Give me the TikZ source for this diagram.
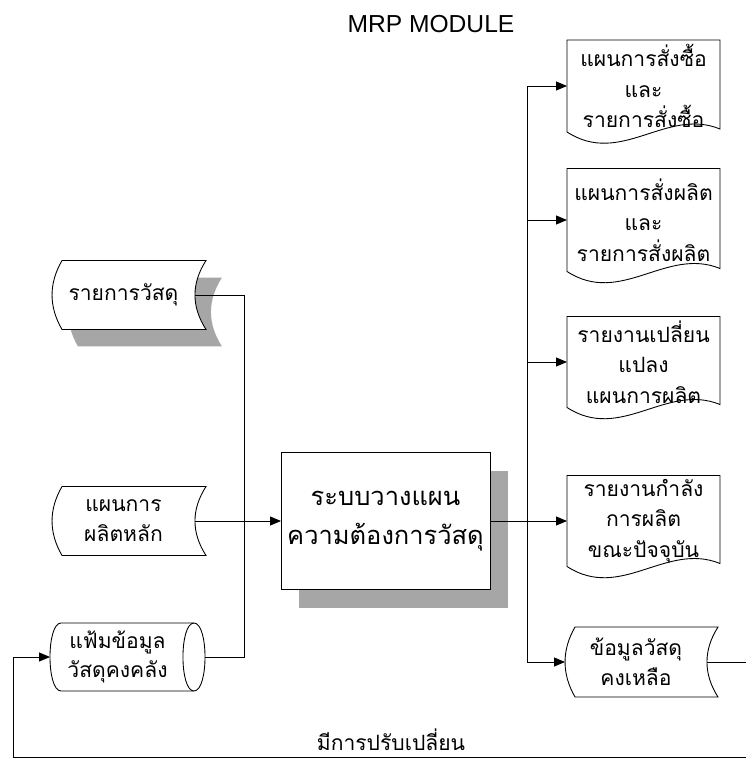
\documentclass[tikz,border=0pt]{standalone}
\usepackage{fontspec}
\usepackage{tikz}
\usetikzlibrary{arrows.meta,positioning,calc,backgrounds}
\newfontfamily\thaifont[Script=Thai]{Loma}
\newfontfamily\headfont{Liberation Sans}
\definecolor{shadowgray}{HTML}{A6A6A6}

% outline of a printed report: straight top and sides, wavy bottom
\newcommand{\docshape}[1]{%
  \draw[outline] (#1.south west) -- (#1.north west) -- (#1.north east) -- ($(#1.south east)+(0,-3)$)
    .. controls ($(#1.south west)+(99,-25)$) and ($(#1.south west)+(54,35)$) .. (#1.south west) -- cycle;}
% stored data: bulge on the left, hollow curve on the right
\newcommand{\storedshape}[2][]{%
  \draw[outline,#1] ($(#2.north west)+(10,0)$) -- ($(#2.north east)+(11,0)$)
    .. controls ($(#2.north east)+(-3.7,23)$) and ($(#2.south east)+(-3.7,-23)$) .. ($(#2.south east)+(11,0)$)
    -- ($(#2.south west)+(10,0)$)
    .. controls ($(#2.south west)+(-3.3,-23)$) and ($(#2.north west)+(-3.3,23)$) .. cycle;}
% disk file drawn as a lying cylinder
\newcommand{\diskshape}[1]{%
  \draw[outline] ($(#1.north west)+(11,0)$) -- ($(#1.north east)+(-11,0)$)
    .. controls ($(#1.north east)+(3.7,0)$) and ($(#1.south east)+(3.7,0)$) .. ($(#1.south east)+(-11,0)$)
    -- ($(#1.south west)+(11,0)$)
    .. controls ($(#1.south west)+(-3.7,0)$) and ($(#1.north west)+(-3.7,0)$) .. cycle;
  \draw[outline] ($(#1.north east)+(-11,0)$)
    .. controls ($(#1.north east)+(-25.7,0)$) and ($(#1.south east)+(-25.7,0)$) .. ($(#1.south east)+(-11,0)$);}

\begin{document}
\begin{tikzpicture}[x=0.02cm,y=-0.02cm,
  outline/.style={draw=black,line width=0.5pt,fill=white},
  txt/.style={inner sep=0pt,outer sep=0pt,align=center,font=\thaifont\fontsize{12}{17}\selectfont},
  storenode/.style={txt,minimum width=2.86cm,minimum height=1.38cm},
  docnode/.style={txt,minimum width=3.06cm,font=\thaifont\fontsize{12}{17.5}\selectfont},
  procbox/.style={txt,minimum width=4.18cm,minimum height=2.74cm,font=\thaifont\fontsize{14.5}{22}\selectfont},
  line/.style={draw=black,line width=0.5pt},
  arrow/.style={line,-{Triangle[length=0.22cm,width=0.18cm]}},
  note/.style={txt}
]
\useasboundingbox (0,0) rectangle (746,760);

\node[font=\headfont\fontsize{14}{16}\selectfont] (title) at (431,24) {MRP MODULE};

% inputs
\node[storenode] (mat) at (123.5,295) {รายการวัสดุ};
\node[storenode] (mps) at (123.5,521) {แผนการ\\ผลิตหลัก};
\node[txt,minimum width=3.1cm,minimum height=1.36cm,
  label={[txt,xshift=-0.2cm]center:แฟ้มข้อมูล\\วัสดุคงคลัง}] (inv) at (127.5,657) {};
\begin{scope}[on background layer]
  \storedshape[fill=shadowgray,draw=none,transform canvas={shift={(16,17)}}]{mat}
  \storedshape{mat}
  \storedshape{mps}
  \diskshape{inv}
\end{scope}

% the MRP process
\fill[shadowgray] (299,471) rectangle (508,608);
\node[procbox,draw=black,line width=0.5pt,fill=white] (mrp) at (385.5,521) {ระบบวางแผน\\ความต้องการวัสดุ};

% outputs
\node[docnode,minimum height=1.84cm] (doc1) at (643.5,86) {แผนการสั่งซื้อ\\และ\\รายการสั่งซื้อ};
\node[docnode,minimum height=2.06cm] (doc2) at (643.5,220) {แผนการสั่งผลิต\\และ\\รายการสั่งผลิต};
\node[docnode,minimum height=1.82cm] (doc3) at (643.5,362) {รายงานเปลี่ยน\\แปลง\\แผนการผลิต};
\node[docnode,minimum height=1.82cm] (doc4) at (643.5,521) {รายงานกำลัง\\การผลิต\\ขณะปัจจุบัน};
\node[storenode,minimum width=2.84cm,minimum height=1.4cm] (left) at (636,662) {ข้อมูลวัสดุ\\คงเหลือ};
\begin{scope}[on background layer]
  \foreach \d in {doc1,doc2,doc3,doc4} {\docshape{\d}}
  \storedshape{left}
\end{scope}

% flows in
\coordinate (jl) at (244,521);
\draw[line] (mat.east) -| (jl);
\draw[line] (inv.east) -| (jl);
\draw[arrow] (mps.east) -- (mrp.west);

% flows out
\coordinate (jr) at (527,521);
\draw[arrow] (mrp.east) -- (doc4.west);
\draw[arrow] (jr) |- (doc1.west);
\draw[arrow] (jr) |- (doc2.west);
\draw[arrow] (jr) |- (doc3.west);
\draw[arrow] (jr) |- (left.west);

% feedback to stock file
\coordinate (fbout) at (746,662);
\coordinate (fbr) at (746,757);
\coordinate (fbl) at (13,757);
\draw[line] (left.east) -- (fbout);
\draw[arrow] (fbr) -- (fbl) |- (inv.west);
\node[note] (chg) at (391,740) {มีการปรับเปลี่ยน};
\end{tikzpicture}
\end{document}
